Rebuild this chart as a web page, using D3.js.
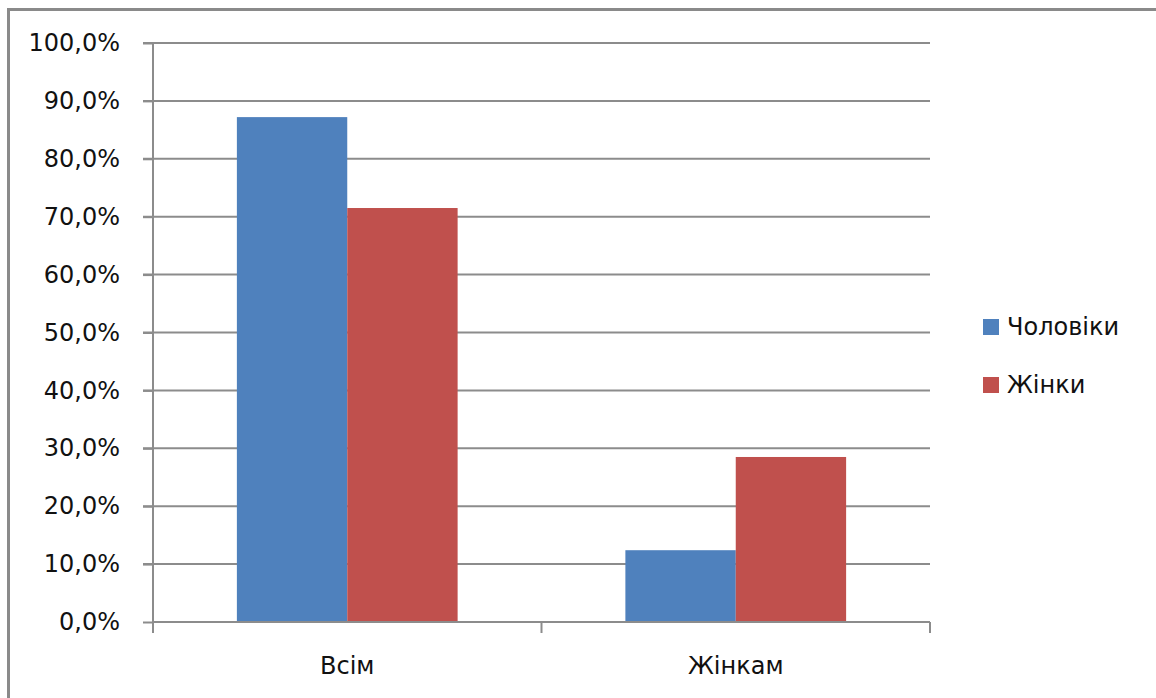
<!DOCTYPE html>
<html>
<head>
<meta charset="utf-8">
<script src="https://cdn.jsdelivr.net/npm/d3@7"></script>
<style>
  body { margin: 0; background: #fff; }
  svg { display: block; font-family: "DejaVu Sans", Verdana, sans-serif; }
</style>
</head>
<body>
<div id="chart"></div>
<script>
(function () {
    "use strict";

    const WIDTH = 1156;
    const HEIGHT = 698;

    // data
    const categories = ["Всім", "Жінкам"];
    const seriesNames = ["Чоловіки", "Жінки"];
    const menValues = [87.2, 12.4];
    const womenValues = [71.5, 28.5];
    const yTicks = [0, 10, 20, 30, 40, 50, 60, 70, 80, 90, 100];

    const COLORS = ["#4F81BD", "#C0504D"];
    const GRID_COLOR = "#8c8c8c";
    const FONT_SIZE = 24;

    const plot = { left: 153, right: 930, top: 43, bottom: 622 };

    const rows = categories.map(function (c, i) {
        return { category: c, values: [menValues[i], womenValues[i]] };
    });

    var svg = d3.select("#chart").append("svg")
        .attr("width", WIDTH)
        .attr("height", HEIGHT);

    /* outer chart border */
    svg.append("rect")
        .attr("x", 8.5).attr("y", 9.5)
        .attr("width", WIDTH + 20).attr("height", HEIGHT + 20)
        .attr("fill", "#fff")
        .attr("stroke", "#8a8a8a")
        .attr("stroke-width", 3);

    var y = d3.scaleLinear().domain([0, 100]).range([plot.bottom, plot.top]);
    var x0 = d3.scaleBand().domain(categories).range([plot.left, plot.right]);
    var x1 = d3.scaleBand().domain(seriesNames).range([0, x0.bandwidth()])
        .paddingInner(0).paddingOuter(0.76);

    /* gridlines */
    svg.append("g")
        .selectAll("line")
        .data(yTicks.filter(function (t) { return t > 0; }))
        .enter().append("line")
        .attr("x1", plot.left - 10).attr("x2", plot.right)
        .attr("y1", function (d) { return y(d); })
        .attr("y2", function (d) { return y(d); })
        .attr("stroke", GRID_COLOR)
        .attr("stroke-width", 2);

    /* bars */
    var groups = svg.append("g")
        .selectAll("g")
        .data(rows)
        .enter().append("g")
        .attr("transform", function (d) { return "translate(" + x0(d.category) + ",0)"; });

    groups.selectAll("rect")
        .data(function (d) {
            return d.values.map(function (v, i) { return { name: seriesNames[i], value: v, idx: i }; });
        })
        .enter().append("rect")
        .attr("x", function (d) { return x1(d.name); })
        .attr("width", x1.bandwidth())
        .attr("y", function (d) { return y(d.value); })
        .attr("height", function (d) { return y(0) - y(d.value); })
        .attr("fill", function (d) { return COLORS[d.idx]; });

    /* y axis */
    var yAxis = d3.axisLeft(y)
        .tickValues(yTicks)
        .tickSize(10)
        .tickPadding(23)
        .tickFormat(function (d) { return d3.format(".1f")(d).replace(".", ",") + "%"; });

    var gy = svg.append("g")
        .attr("transform", "translate(" + plot.left + ",0)")
        .call(yAxis);
    gy.select(".domain").remove();
    gy.append("line")
        .attr("x1", 0).attr("x2", 0)
        .attr("y1", plot.top).attr("y2", plot.bottom + 11)
        .attr("stroke", GRID_COLOR).attr("stroke-width", 2);
    gy.selectAll(".tick line").attr("stroke", GRID_COLOR).attr("stroke-width", 2);
    gy.selectAll(".tick text")
        .attr("fill", "#111")
        .style("font-size", FONT_SIZE + "px")
        .style("font-family", "DejaVu Sans, Verdana, sans-serif");

    /* x axis */
    var gx = svg.append("g")
        .attr("transform", "translate(0," + plot.bottom + ")");
    gx.append("line")
        .attr("x1", plot.left).attr("x2", plot.right)
        .attr("stroke", GRID_COLOR).attr("stroke-width", 2);
    var boundaries = categories.map(function (c) { return x0(c); }).concat([plot.right]);
    gx.selectAll("line.tk")
        .data(boundaries)
        .enter().append("line")
        .attr("class", "tk")
        .attr("x1", function (d) { return d; }).attr("x2", function (d) { return d; })
        .attr("y1", 0).attr("y2", 11)
        .attr("stroke", GRID_COLOR).attr("stroke-width", 2);
    gx.selectAll("text")
        .data(categories)
        .enter().append("text")
        .attr("x", function (d) { return x0(d) + x0.bandwidth() / 2; })
        .attr("y", 52)
        .attr("text-anchor", "middle")
        .style("font-size", FONT_SIZE + "px")
        .attr("fill", "#111")
        .text(function (d) { return d; });

    /* legend */
    var legend = svg.append("g")
        .selectAll("g")
        .data(seriesNames)
        .enter().append("g")
        .attr("transform", function (d, i) { return "translate(983," + (327 + i * 58) + ")"; });
    legend.append("rect")
        .attr("x", 0).attr("y", -8)
        .attr("width", 16).attr("height", 16)
        .attr("fill", function (d, i) { return COLORS[i]; });
    legend.append("text")
        .attr("x", 24).attr("y", 0)
        .attr("dy", "0.35em")
        .style("font-size", FONT_SIZE + "px")
        .attr("fill", "#111")
        .text(function (d) { return d; });
})();
</script>
</body>
</html>
